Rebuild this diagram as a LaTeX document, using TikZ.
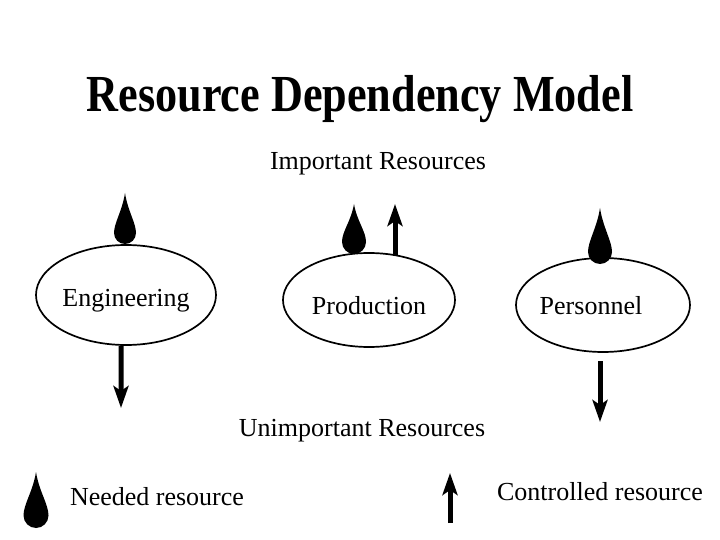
\documentclass[tikz,border=0pt]{standalone}
\usepackage{fontspec}
\setmainfont{Liberation Serif}
\usepackage{graphicx}
\usetikzlibrary{shapes.geometric,arrows.meta}
\newcommand\dropshape[4]{% cx top bottom r
 \fill ({#1},{#2}) .. controls ({#1+0.25*#4},{#2+0.35*(#3-#2)}) and ({#1+#4},{#3-1.9*#4}) .. ({#1+#4},{#3-#4})
 .. controls ({#1+#4},{#3-0.45*#4}) and ({#1+0.55*#4},{#3}) .. ({#1},{#3})
 .. controls ({#1-0.55*#4},{#3}) and ({#1-#4},{#3-0.45*#4}) .. ({#1-#4},{#3-#4})
 .. controls ({#1-#4},{#3-1.9*#4}) and ({#1-0.25*#4},{#2+0.35*(#3-#2)}) .. cycle;}
\tikzset{
 ell/.style={draw, line width=1.7bp, ellipse, inner sep=0pt},
 lbl/.style={font=\fontsize{26bp}{30bp}\selectfont, inner sep=0pt, anchor=base},
 arr/.style={line width=5bp, -{Stealth[length=22bp,width=15bp,inset=5bp]}},
}
\begin{document}
\begin{tikzpicture}[x=1bp,y=-1bp]
\useasboundingbox (0,0) rectangle (720,540);
\node[anchor=base, inner sep=0pt] (title) at (360,112)
 {\scalebox{0.85}[1]{\fontsize{52bp}{60bp}\selectfont\bfseries Resource Dependency Model}};
\node[lbl] (imp) at (378,170) {Important Resources};
\node[lbl] (unimp) at (362,436) {Unimportant Resources};

\node[ell, minimum width=180bp, minimum height=100bp] (eng) at (126,295) {};
\node[ell, minimum width=172bp, minimum height=94bp] (prod) at (369,300) {};
\node[ell, minimum width=174bp, minimum height=94bp] (pers) at (603,305) {};
\node[lbl] (engt) at (126,306) {Engineering};
\node[lbl] (prodt) at (369,314) {Production};
\node[lbl] (perst) at (591,314) {Personnel};

\dropshape{125}{193}{244}{11}
\dropshape{354}{204}{254}{12}
\dropshape{600}{208}{264}{12}
\dropshape{36}{472}{528}{12.5}

\coordinate (engend) at (121,408);
\coordinate (produp0) at (395,255);
\coordinate (produp) at (395,204);
\coordinate (pers0) at (600,361);
\coordinate (persend) at (600,422);
\coordinate (leg0) at (450,523);
\coordinate (leg1) at (450,473);
\draw[arr] ([xshift=-5bp]eng.south) -- (engend);
\draw[arr] (produp0) -- (produp);
\draw[arr] (pers0) -- (persend);
\draw[arr] (leg0) -- (leg1);

\node[lbl] (needed) at (157,505) {Needed resource};
\node[lbl] (ctrl) at (600,500) {Controlled resource};
\end{tikzpicture}
\end{document}
